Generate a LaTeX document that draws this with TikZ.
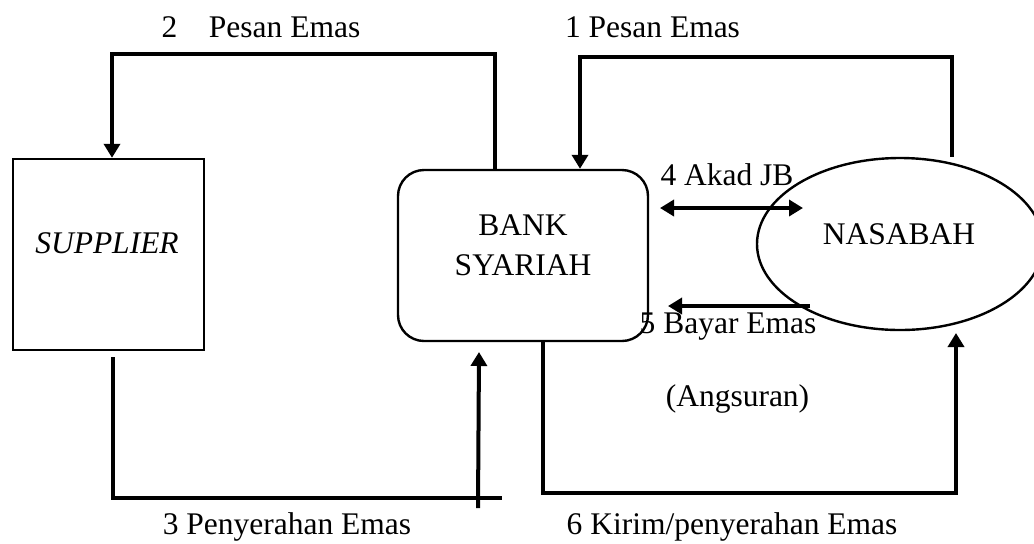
\documentclass[tikz,border=0pt]{standalone}
\usepackage{fontspec}
\setmainfont{Liberation Serif}
\usetikzlibrary{arrows.meta,shapes.geometric}
\begin{document}
\begin{tikzpicture}
[x=0.5pt, y=-0.5pt,
  boxdecorate/.style={shape=rectangle,draw,line width=1.2pt,inner sep=0pt},
  ellipsedecorate/.style={shape=ellipse,draw,line width=1.2pt,inner sep=0pt},
  textdecorate/.style={anchor=base,inner sep=0pt,font=\fontsize{15.75}{20}\selectfont},
  linedecorate/.style={line width=2pt},
  >={Triangle[width=8pt,length=7pt]}]
\useasboundingbox (0,0) rectangle (1034,543);
%% shapes
\node (supplier) at (108.5,254.5) [boxdecorate, minimum width=95.5pt, minimum height=95.5pt] {};
\node (bank) at (523,255.5) [boxdecorate, rounded corners=13pt, minimum width=125pt, minimum height=85.5pt] {};
\node (nasabah) at (900,244) [ellipsedecorate, minimum width=143pt, minimum height=86pt] {};
%% texts
\foreach \textname/\x/\y/\content in {tsupplier/107/253/\textit{SUPPLIER},
  tbank/523/235/BANK, tsyariah/523/275/SYARIAH, tnasabah/899/244/NASABAH,
  tone/652.5/37/1 Pesan Emas, ttwo/261/37/2\quad Pesan Emas,
  tthree/287/534/3 Penyerahan Emas, tfour/727/185/4 Akad JB,
  tfive/728/333/5 Bayar Emas, tangsuran/737.5/406/(Angsuran),
  tsix/732/534/{6 Kirim/penyerahan Emas}}
{
  \node (\textname) at (\x,\y) [textdecorate] {\content};
}
%% bends and free ends
\foreach \pointname/\x/\y in {p2a/495/54, p2b/112/54, p1a/952/57, p1b/580/57,
  p3a/113/357, p3b/113/498, p3c/502/498, p3d/478/508, p3e/479/352,
  p6a/543/493, p6b/956/493, p6c/956/333, p4a/660/208, p4b/803/208,
  p5a/810/306, p5b/668/306}
{
  \coordinate (\pointname) at (\x,\y);
}
%% edges or lines
\draw [linedecorate,->] (bank.north -| p2a) -- (p2a) -- (p2b) -- (supplier.north -| p2b);
\draw [linedecorate,->] (nasabah.north -| p1a) -- (p1a) -- (p1b) -- (bank.north -| p1b);
\draw [linedecorate] (p3a) -- (p3b) -- (p3c);
\draw [linedecorate,->] (p3d) -- (p3e);
\draw [linedecorate,<->] (p4a) -- (p4b);
\draw [linedecorate,->] (p5a) -- (p5b);
\draw [linedecorate,->] (bank.south -| p6a) -- (p6a) -- (p6b) -- (p6c);
\end{tikzpicture}
\end{document}
